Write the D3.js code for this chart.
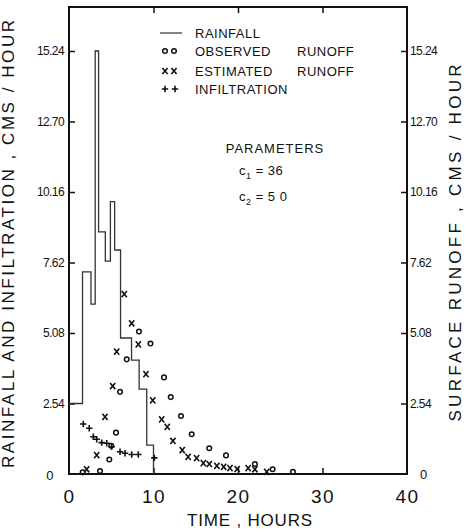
<!DOCTYPE html>
<html><head><meta charset="utf-8">
<script src="https://cdn.jsdelivr.net/npm/d3@7"></script>
<style>
body{margin:0;background:#fff;}
svg{display:block;font-family:"Liberation Sans",Arial,sans-serif;}
</style></head>
<body><svg id="c" width="466" height="532"></svg>
<script>
// ---- data ----
const yTickValues = [0, 2.54, 5.08, 7.62, 10.16, 12.70, 15.24];
const yTickLabels = ["0", "2.54", "5.08", "7.62", "10.16", "12.70", "15.24"];
const xTickValues = [0, 10, 20, 30, 40];

const rainTimes  = [0, 1.6, 2.6, 3.1, 3.5, 4.3, 4.9, 5.4, 6.1, 7.4, 8.3, 9.2, 10.0];
const rainValues = [2.54, 7.28, 6.12, 15.24, 8.72, 7.67, 9.81, 8.07, 4.9, 4.1, 3.06, 1.04, 0];

const obsTimes  = [1.62, 3.67, 4.77, 5.0, 5.56, 6.04, 6.83, 8.28, 9.64, 11.24, 12.04, 13.25, 14.52, 16.6, 18.58, 22.0, 24.1, 26.5];
const obsValues = [0.06, 0.11, 0.52, 1.02, 1.49, 2.96, 4.13, 5.13, 4.70, 3.48, 2.77, 2.09, 1.43, 0.93, 0.67, 0.36, 0.17, 0.08];

const estTimes  = [2.09, 3.28, 4.26, 5.17, 5.64, 6.54, 7.42, 8.20, 9.11, 9.91, 10.97, 11.63, 12.3, 13.4, 14.1, 15.1, 15.9, 16.6, 17.5, 18.3, 19.05, 19.9, 21.2, 22.0, 23.4];
const estValues = [0.17, 0.68, 2.06, 3.17, 4.41, 6.48, 5.43, 4.67, 3.60, 2.65, 1.97, 1.70, 1.19, 0.86, 0.62, 0.57, 0.39, 0.36, 0.29, 0.26, 0.21, 0.18, 0.21, 0.17, 0.08];

const infTimes  = [1.69, 2.40, 2.88, 3.28, 3.87, 4.46, 5.05, 6.04, 6.63, 7.42, 8.20, 10.1];
const infValues = [1.80, 1.65, 1.34, 1.25, 1.13, 1.11, 0.98, 0.80, 0.75, 0.70, 0.70, 0.58];

const legendLabels = ["RAINFALL", "OBSERVED", "ESTIMATED", "INFILTRATION"];

// ---- layout ----
const svg = d3.select("#c");
const L = 69, R = 407, T = 7, B = 474;
const x = d3.scaleLinear().domain([0, 40]).range([L, R]);
const y = d3.scaleLinear().domain([0, 15.24]).range([B, 51]);
const ink = "#111";

// frame
svg.append("rect").attr("x", L).attr("y", T).attr("width", R - L).attr("height", B - T)
  .attr("fill", "none").attr("stroke", ink).attr("stroke-width", 2);

// left / right axes
const fmt = d => yTickLabels[yTickValues.indexOf(d)];
const gl = svg.append("g").attr("transform", `translate(${L},0)`)
  .call(d3.axisLeft(y).tickValues(yTickValues).tickFormat(fmt).tickSize(-6).tickPadding(5));
const gr = svg.append("g").attr("transform", `translate(${R},0)`)
  .call(d3.axisRight(y).tickValues(yTickValues).tickFormat(fmt).tickSize(-6).tickPadding(3));
[gl, gr].forEach(g => {
  g.select(".domain").remove();
  g.selectAll(".tick line").attr("stroke", ink).attr("stroke-width", 1.5);
  g.selectAll(".tick text").attr("font-size", 12).attr("letter-spacing", -0.6).attr("fill", ink)
    .attr("font-family", "Liberation Sans, Arial, sans-serif");
  g.selectAll(".tick").filter(d => d === 0).select("line").remove();
});
gl.selectAll(".tick").filter(d => d === 0).select("text").attr("x", -16).attr("dy", "0.45em").attr("font-size", 13);
gr.selectAll(".tick").filter(d => d === 0).select("text").attr("x", 13).attr("dy", "0.35em").attr("font-size", 13);

// bottom / top axes
const gb = svg.append("g").attr("transform", `translate(0,${B})`)
  .call(d3.axisBottom(x).tickValues(xTickValues).tickSize(-6).tickPadding(16));
gb.select(".domain").remove();
gb.selectAll(".tick line").attr("stroke", ink).attr("stroke-width", 1.5);
gb.selectAll(".tick").filter(d => d === 0 || d === 40).select("line").remove();
gb.selectAll(".tick text").attr("font-size", 19).attr("letter-spacing", 1.5).attr("fill", ink)
  .attr("font-family", "Liberation Sans, Arial, sans-serif");
const gt = svg.append("g").attr("transform", `translate(0,${T})`)
  .call(d3.axisTop(x).tickValues([10, 20, 30]).tickSize(-6).tickFormat(""));
gt.select(".domain").remove();
gt.selectAll(".tick line").attr("stroke", ink).attr("stroke-width", 1.5);

// axis titles
svg.append("text").attr("x", 250).attr("y", 526).attr("text-anchor", "middle")
  .attr("font-size", 17).attr("letter-spacing", 0.8).attr("fill", ink).text("TIME , HOURS");
svg.append("text").attr("transform", "translate(14,244) rotate(-90)").attr("text-anchor", "middle")
  .attr("font-size", 17).attr("fill", ink).attr("textLength", 448).attr("lengthAdjust", "spacing")
  .text("RAINFALL  AND  INFILTRATION  ,  CMS / HOUR");
svg.append("text").attr("transform", "translate(461,243) rotate(-90)").attr("text-anchor", "middle")
  .attr("font-size", 17).attr("fill", ink).attr("textLength", 357).attr("lengthAdjust", "spacing")
  .text("SURFACE  RUNOFF  ,  CMS / HOUR");

// rainfall step line
const rainPts = rainTimes.map((t, i) => [t, rainValues[i]]);
svg.append("path").datum(rainPts)
  .attr("d", d3.line().x(d => x(d[0])).y(d => y(d[1])).curve(d3.curveStepAfter))
  .attr("fill", "none").attr("stroke", "#333").attr("stroke-width", 1.3);

// marker helpers
function circ(g, cx, cy) {
  g.append("circle").attr("cx", cx).attr("cy", cy).attr("r", 2.3)
    .attr("fill", "none").attr("stroke", ink).attr("stroke-width", 1.5);
}
function cross(g, cx, cy) {
  const s = 2.6;
  g.append("path").attr("d", `M${cx - s},${cy - s - 0.5}L${cx + s},${cy + s + 0.5}M${cx + s},${cy - s - 0.5}L${cx - s},${cy + s + 0.5}`)
    .attr("stroke", ink).attr("stroke-width", 1.6);
}
function plus(g, cx, cy) {
  const s = 3.2;
  g.append("path").attr("d", `M${cx - s},${cy}L${cx + s},${cy}M${cx},${cy - s}L${cx},${cy + s}`)
    .attr("stroke", ink).attr("stroke-width", 1.6);
}
const gm = svg.append("g");
obsTimes.forEach((t, i) => circ(gm, x(t), y(obsValues[i])));
estTimes.forEach((t, i) => cross(gm, x(t), y(estValues[i])));
infTimes.forEach((t, i) => plus(gm, x(t), y(infValues[i])));

// legend
const lg = svg.append("g").attr("font-size", 13).attr("letter-spacing", 0.5).attr("fill", ink);
const rows = [33, 51, 71, 89];
lg.append("line").attr("x1", 160).attr("x2", 182).attr("y1", rows[0]).attr("y2", rows[0])
  .attr("stroke", "#333").attr("stroke-width", 1.2);
circ(lg, 165, rows[1]); circ(lg, 174, rows[1]);
cross(lg, 165, rows[2]); cross(lg, 174, rows[2]);
plus(lg, 165, rows[3]); plus(lg, 175, rows[3]);
legendLabels.forEach((s, i) => lg.append("text").attr("x", 195).attr("y", rows[i]).attr("dy", "0.36em").text(s));
lg.append("text").attr("x", 297).attr("y", rows[1]).attr("dy", "0.36em").text("RUNOFF");
lg.append("text").attr("x", 297).attr("y", rows[2]).attr("dy", "0.36em").text("RUNOFF");

// parameters
const pg = svg.append("g").attr("font-size", 13).attr("fill", ink);
pg.append("text").attr("x", 275).attr("y", 148).attr("dy", "0.36em").attr("text-anchor", "middle")
  .attr("letter-spacing", 1).text("PARAMETERS");
const c1 = pg.append("text").attr("x", 239).attr("y", 170).attr("dy", "0.36em").attr("letter-spacing", 0.5);
c1.append("tspan").text("c");
c1.append("tspan").attr("font-size", 9).attr("dy", 4).text("1");
c1.append("tspan").attr("dy", -4).text(" = 36");
const c2 = pg.append("text").attr("x", 239).attr("y", 196).attr("dy", "0.36em").attr("letter-spacing", 0.5);
c2.append("tspan").text("c");
c2.append("tspan").attr("font-size", 9).attr("dy", 4).text("2");
c2.append("tspan").attr("dy", -4).text(" = 5 0");
</script></body></html>
